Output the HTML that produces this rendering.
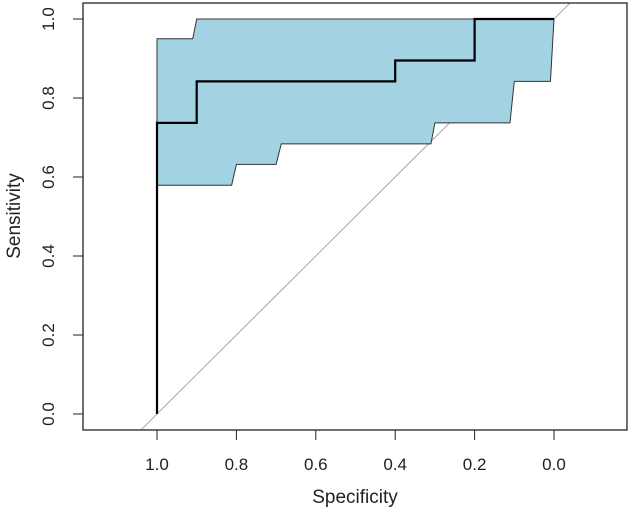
<!DOCTYPE html>
<html><head><meta charset="utf-8"><style>
body{margin:0;background:#fff;}
svg{display:block;font-family:"Liberation Sans",Arial,sans-serif;}
</style></head><body>
<svg id="chart" width="629" height="514"></svg>
<script>
const specSteps=[1.0,1.0,0.9,0.9,0.4,0.4,0.2,0.2,0.0];
const sensSteps=[0.0,0.737,0.737,0.842,0.842,0.895,0.895,1.0,1.0];
const upperSpec=[1.0,0.91,0.9,0.0];
const upperSens=[0.95,0.95,1.0,1.0];
const lowerSpec=[0.0,0.009,0.10,0.111,0.30,0.31,0.687,0.70,0.80,0.812,1.0];
const lowerSens=[1.0,0.842,0.842,0.737,0.737,0.684,0.684,0.632,0.632,0.579,0.579];
const xTicks=[1.0,0.8,0.6,0.4,0.2,0.0];
const yTicks=[0.0,0.2,0.4,0.6,0.8,1.0];
const NS="http://www.w3.org/2000/svg";
const svg=document.getElementById('chart');
const L=83,R=627,T=3,B=430;
function xs(s){return 157+(1-s)*397;}
function ys(v){return 414-v*395;}
function mk(t,a){const e=document.createElementNS(NS,t);for(const k in a)e.setAttribute(k,a[k]);svg.appendChild(e);return e;}
// diagonal (sens = 1 - spec), drawn beneath band
const sb=(414-B)/395, st=(414-T)/395;
const d=mk('line',{x1:xs(1-sb),y1:B,x2:xs(1-st),y2:T,stroke:'#aaa','stroke-width':1});


// band
let pts=[];
for(let i=0;i<upperSpec.length;i++)pts.push(xs(upperSpec[i])+','+ys(upperSens[i]));
for(let i=0;i<lowerSpec.length;i++)pts.push(xs(lowerSpec[i])+','+ys(lowerSens[i]));
const band=mk('polygon',{points:pts.join(' '),fill:'#a3d3e2',stroke:'#333','stroke-width':1});


// curve
const cp=specSteps.map((s,i)=>xs(s)+','+ys(sensSteps[i])).join(' ');
const curve=mk('polyline',{points:cp,fill:'none',stroke:'#000','stroke-width':2.2});


// box
const box=mk('rect',{x:L,y:T,width:R-L,height:B-T,fill:'none',stroke:'#222','stroke-width':1.3});


xTicks.forEach(v=>{
 const x=xs(v);
 const t=mk('line',{x1:x,y1:B,x2:x,y2:B+10,stroke:'#222','stroke-width':1});
 
 
 const l=mk('text',{x:x,y:470,'text-anchor':'middle','font-size':17,fill:'#222'});
 l.textContent=v.toFixed(1);
 
 
});
yTicks.forEach(v=>{
 const y=ys(v);
 const t=mk('line',{x1:L,y1:y,x2:L-10,y2:y,stroke:'#222','stroke-width':1});
 
 
 const l=mk('text',{x:0,y:0,'text-anchor':'middle','font-size':17,fill:'#222',transform:'translate(54,'+y+') rotate(-90)'});
 l.textContent=v.toFixed(1);
 
 
});
const xt=mk('text',{x:355,y:503,'text-anchor':'middle','font-size':19,fill:'#222'});
xt.textContent='Specificity';


const yt=mk('text',{x:0,y:0,'text-anchor':'middle','font-size':19,fill:'#222',transform:'translate(20,216) rotate(-90)'});
yt.textContent='Sensitivity';


</script>
</body></html>
